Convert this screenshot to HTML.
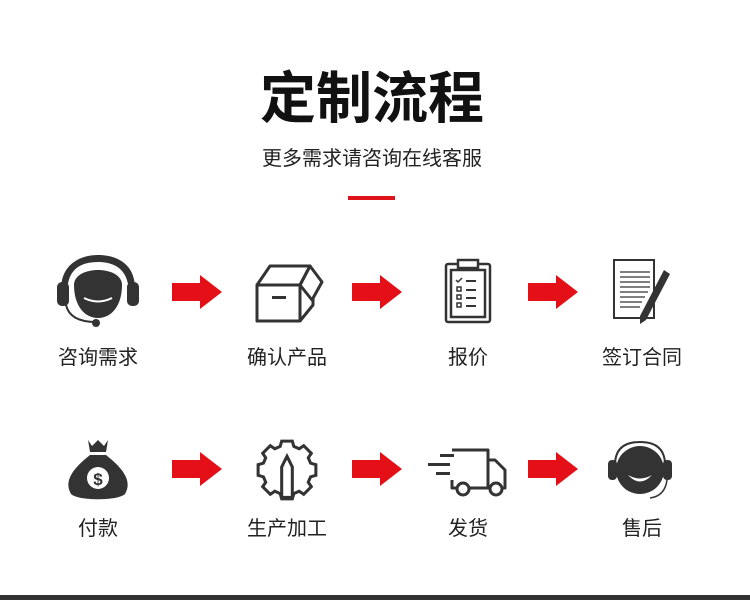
<!DOCTYPE html>
<html><head><meta charset="utf-8"><style>
body{margin:0;background:#fff;width:750px;height:600px;overflow:hidden}
text{font-family:"Liberation Sans","Noto Sans CJK SC",sans-serif}
</style></head><body>
<svg width="750" height="600" viewBox="0 0 750 600" xmlns="http://www.w3.org/2000/svg">
<rect width="750" height="600" fill="#fff"/>
<text x="372" y="118" font-size="56" font-weight="bold" text-anchor="middle" fill="#111">定制流程</text>
<text x="372" y="165" font-size="20" text-anchor="middle" fill="#222">更多需求请咨询在线客服</text>
<rect x="348" y="196" width="47" height="4" fill="#e0121a"/>
<defs>
<g id="arr"><polygon points="0,-9 28,-9 28,-17 50,0 28,17 28,9 0,9" fill="#e40f17"/></g>
</defs>
<use href="#arr" x="172" y="292"/><use href="#arr" x="352" y="292"/><use href="#arr" x="528" y="292"/>
<use href="#arr" x="172" y="469"/><use href="#arr" x="352" y="469"/><use href="#arr" x="528" y="469"/>
<g font-size="20" fill="#222" text-anchor="middle">
<text x="98" y="364">咨询需求</text><text x="287" y="364">确认产品</text><text x="468" y="364">报价</text><text x="642" y="364">签订合同</text>
<text x="98" y="535">付款</text><text x="287" y="535">生产加工</text><text x="468" y="535">发货</text><text x="642" y="535">售后</text>
</g>
<!-- headset person -->
<g fill="#333">
<path d="M62,300 C56,265 80,255 98,255 C118,255 140,265 134,300 L128,300 C132,270 115,262 98,262 C80,262 64,270 68,300Z"/>
<rect x="57" y="282" width="12" height="24" rx="5"/><rect x="127" y="282" width="12" height="24" rx="5"/>
<path d="M74,285 C74,265 122,265 122,285 C122,305 112,318 98,318 C84,318 74,305 74,285Z"/>
<path d="M66,305 Q70,322 96,322" stroke="#333" stroke-width="2" fill="none"/>
<circle cx="96" cy="323" r="4"/>
</g>
<path d="M84,298 Q98,305 112,298" stroke="#fff" stroke-width="2" fill="none"/>
<!-- box -->
<g fill="none" stroke="#333" stroke-width="3" stroke-linejoin="round">
<path d="M257,285 L270,266 L310,266 L300,285Z"/><rect x="257" y="285" width="43" height="36"/>
<path d="M300,285 L310,266 L322,282 L312,300Z"/><path d="M300,321 L313,305 L313,298"/>
</g><rect x="272" y="296" width="14" height="3" fill="#333"/>
<!-- clipboard -->
<g fill="none" stroke="#333" stroke-width="2.5">
<rect x="446" y="264" width="44" height="58" rx="2"/><rect x="451" y="270" width="34" height="47"/>
<rect x="458" y="260" width="20" height="8" fill="#fff"/>
</g>
<g fill="#333"><rect x="466" y="280" width="10" height="2"/><rect x="466" y="289" width="10" height="2"/><rect x="466" y="297" width="10" height="2"/><rect x="466" y="305" width="10" height="2"/></g>
<g fill="none" stroke="#333" stroke-width="1.5"><rect x="457" y="287" width="4" height="4"/><rect x="457" y="295" width="4" height="4"/><rect x="457" y="303" width="4" height="4"/><path d="M456,280 l2,2 l4,-4"/></g>
<!-- notepad -->
<g stroke="#333" fill="none">
<rect x="614" y="260" width="40" height="58" stroke-width="2"/>
<path d="M620,272h30M620,277h30M620,282h30M620,287h30M620,292h28M620,297h25M620,302h22M620,307h20" stroke-width="1.2"/>
</g>
<path d="M640,316 L664,270 L670,274 L646,320 L640,324Z" fill="#333"/>
<!-- money bag -->
<g fill="#333">
<path d="M88,440 L92,446 L98,440 L104,446 L108,440 L106,452 L90,452Z"/>
<path d="M90,455 L106,455 C125,470 132,482 125,494 C118,501 78,501 71,494 C64,482 71,470 90,455Z"/>
</g>
<circle cx="98" cy="478" r="11" fill="#fff"/>
<text x="98" y="485" font-size="17" font-weight="bold" text-anchor="middle" fill="#333">$</text>
<!-- gear -->
<g transform="translate(287,470) scale(0.76) translate(-287,-480)">
<path fill="none" stroke="#333" stroke-width="4" d="M280,442h14l2,7 7,3 6,-4 10,10 -4,6 3,7 7,2v14l-7,2 -3,7 4,6 -10,10 -6,-4 -7,3 -2,7h-14l-2,-7 -7,-3 -6,4 -10,-10 4,-6 -3,-7 -7,-2v-14l7,-2 3,-7 -4,-6 10,-10 6,4 7,-3Z"/>
<circle cx="287" cy="480" r="22" fill="#fff"/>
<path d="M280,516 L280,476 L287,462 L294,476 L294,516Z" fill="#fff" stroke="#333" stroke-width="4"/>
</g>
<!-- truck -->
<g fill="none" stroke="#333" stroke-width="3" stroke-linejoin="round">
<path d="M452,450 H488 V488 H505 V470 L495,460 H488"/><path d="M488,488 H452 V480"/>
<circle cx="463" cy="489" r="6" fill="#fff"/><circle cx="496" cy="489" r="6" fill="#fff"/>
</g>
<g fill="#333"><rect x="440" y="454" width="14" height="3"/><rect x="428" y="463" width="22" height="3"/><rect x="436" y="472" width="14" height="3"/></g>
<!-- customer service -->
<g fill="#333">
<circle cx="640" cy="470" r="24"/><rect x="608" y="460" width="9" height="20" rx="4"/><rect x="663" y="460" width="9" height="20" rx="4"/>
</g>
<path d="M615,465 Q615,442 640,442 Q665,442 665,465" fill="none" stroke="#333" stroke-width="2"/>
<path d="M628,475 Q640,488 652,475 Q640,482 628,475Z" fill="#fff"/>
<path d="M667,480 Q665,496 650,498" fill="none" stroke="#333" stroke-width="1.5"/>
<rect x="0" y="595" width="750" height="5" fill="#333"/>
</svg>
</body></html>
